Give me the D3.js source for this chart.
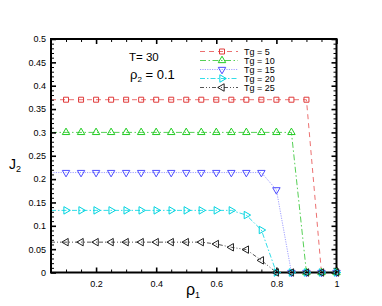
<!DOCTYPE html>
<html><head><meta charset="utf-8">
<script src="https://cdn.jsdelivr.net/npm/d3@7"></script>
<style>body{margin:0;background:#fff}svg{display:block}text{font-family:"Liberation Sans",Arial,sans-serif}</style>
</head><body>
<svg id="c" width="382" height="306"></svg>
<script>
const rho1 = [0.05,0.1,0.15,0.2,0.25,0.3,0.35,0.4,0.45,0.5,0.55,0.6,0.65,0.7,0.75,0.8,0.85,0.9,0.95,1.0];
const tg5  = [0.37,0.37,0.37,0.37,0.37,0.37,0.37,0.37,0.37,0.37,0.37,0.37,0.37,0.37,0.37,0.37,0.37,0.37,0,0];
const tg10 = [0.3,0.3,0.3,0.3,0.3,0.3,0.3,0.3,0.3,0.3,0.3,0.3,0.3,0.3,0.3,0.3,0.3,0,0,0];
const tg15 = [0.214,0.214,0.214,0.214,0.214,0.214,0.214,0.214,0.214,0.214,0.214,0.214,0.214,0.214,0.214,0.177,0,0,0,0];
const tg20 = [0.133,0.133,0.133,0.133,0.133,0.133,0.133,0.133,0.133,0.133,0.133,0.133,0.133,0.123,0.091,0,0,0,0,0];
const tg25 = [0.065,0.065,0.065,0.065,0.065,0.065,0.065,0.065,0.065,0.065,0.065,0.061,0.054,0.049,0.026,0,0,0,0,0];
const seriesNames = ["Tg = 5","Tg = 10","Tg = 15","Tg = 20","Tg = 25"];
const xTicks = [0.2,0.4,0.6,0.8,1];
const xTickLabels = ["0.2","0.4","0.6","0.8","1"];
const yTicks = [0,0.05,0.1,0.15,0.2,0.25,0.3,0.35,0.4,0.45,0.5];
const yTickLabels = ["0","0.05","0.1","0.15","0.2","0.25","0.3","0.35","0.4","0.45","0.5"];

const svg = d3.select("#c");
const L=51, R=336.5, T=39, B=272.5;
const x = d3.scaleLinear([0.05,1],[L,R]);
const y = d3.scaleLinear([0,0.5],[B,T]);

const styles = [
  {c:"#e03a3a", lc:"#ec7070", dash:"5,4", sym:d3.symbolSquare, rot:0, size:25},
  {c:"#22cc22", lc:"#55d055", dash:"6,2.5,1.5,2.5", sym:d3.symbolTriangle, rot:0, size:24},
  {c:"#4d4dff", lc:"#a0a0ff", dash:"1.2,1.2", sym:d3.symbolTriangle, rot:180, size:24},
  {c:"#00d4e0", lc:"#33dde8", dash:"5,2,1.5,2", sym:d3.symbolTriangle, rot:90, size:24},
  {c:"#222222", lc:"#555555", dash:"4,2,1,2,1,2", sym:d3.symbolTriangle, rot:-90, size:24}
];
const allSeries = [tg5,tg10,tg15,tg20,tg25];

const line = d3.line().x((d,i)=>x(rho1[i])).y(d=>y(d));
allSeries.forEach((s,k)=>{
  const st = styles[k];
  svg.append("path").attr("d", line(s)).attr("fill","none")
    .attr("stroke", st.lc).attr("stroke-width",1).attr("stroke-dasharray", st.dash);
});
allSeries.forEach((s,k)=>{
  const st = styles[k];
  const sym = d3.symbol().type(st.sym).size(st.size);
  svg.append("g").selectAll("path").data(s.map((v,i)=>({v,i})).filter(d=>d.i>0 && d.v>0))
    .join("path").attr("d", sym())
    .attr("transform", d=>`translate(${x(rho1[d.i])},${y(d.v)}) rotate(${st.rot})`)
    .attr("fill","none").attr("stroke", st.c).attr("stroke-width",1);
});

const minorX = d3.range(0.1,1.0001,0.05).filter(v=>!xTicks.some(t=>Math.abs(t-v)<1e-6));
const minorY = d3.range(0,0.5001,0.01).filter(v=>!yTicks.some(t=>Math.abs(t-v)<1e-6));
function styleAxis(g){ g.select(".domain").remove(); g.selectAll("line").attr("stroke","#000"); }

svg.append("g").attr("transform",`translate(0,${B})`)
  .call(d3.axisBottom(x).tickValues(xTicks).tickFormat((d,i)=>xTickLabels[i]).tickSize(-5).tickPadding(8))
  .call(styleAxis).call(g=>g.selectAll("line").attr("stroke-width",1.6))
  .call(g=>g.selectAll("text").attr("font-size",9).attr("fill","#000").attr("font-family","Liberation Sans, Arial, sans-serif"));
svg.append("g").attr("transform",`translate(0,${B})`)
  .call(d3.axisBottom(x).tickValues(minorX).tickFormat("").tickSize(-3)).call(styleAxis);
svg.append("g").attr("transform",`translate(0,${T})`)
  .call(d3.axisTop(x).tickValues(xTicks).tickFormat("").tickSize(-5)).call(styleAxis)
  .call(g=>g.selectAll("line").attr("stroke-width",1.6));
svg.append("g").attr("transform",`translate(0,${T})`)
  .call(d3.axisTop(x).tickValues(minorX).tickFormat("").tickSize(-3)).call(styleAxis);

svg.append("g").attr("transform",`translate(${L},0)`)
  .call(d3.axisLeft(y).tickValues(yTicks).tickFormat((d,i)=>yTickLabels[i]).tickSize(-5).tickPadding(5))
  .call(styleAxis).call(g=>g.selectAll("line").attr("stroke-width",1.6))
  .call(g=>g.selectAll("text").attr("font-size",9).attr("fill","#000").attr("font-family","Liberation Sans, Arial, sans-serif"));
svg.append("g").attr("transform",`translate(${L},0)`)
  .call(d3.axisLeft(y).tickValues(minorY).tickFormat("").tickSize(-3)).call(styleAxis);
svg.append("g").attr("transform",`translate(${R},0)`)
  .call(d3.axisRight(y).tickValues(yTicks).tickFormat("").tickSize(-5)).call(styleAxis)
  .call(g=>g.selectAll("line").attr("stroke-width",1.6));
svg.append("g").attr("transform",`translate(${R},0)`)
  .call(d3.axisRight(y).tickValues(minorY).tickFormat("").tickSize(-3)).call(styleAxis);

svg.append("rect").attr("x",L).attr("y",T).attr("width",R-L).attr("height",B-T)
  .attr("fill","none").attr("stroke","#000").attr("stroke-width",2);

// zero-valued markers drawn on top of the frame
allSeries.forEach((s,k)=>{
  const st = styles[k];
  const sym = d3.symbol().type(st.sym).size(st.size);
  svg.append("g").selectAll("path").data(s.map((v,i)=>({v,i})).filter(d=>d.v===0))
    .join("path").attr("d", sym())
    .attr("transform", d=>`translate(${x(rho1[d.i])},${y(d.v)}) rotate(${st.rot})`)
    .attr("fill","none").attr("stroke", st.c).attr("stroke-width",1);
});

const lg = svg.append("g");
seriesNames.forEach((n,k)=>{
  const st = styles[k];
  const yy = 51.5 + k*9;
  lg.append("line").attr("x1",200).attr("x2",238).attr("y1",yy).attr("y2",yy)
    .attr("stroke",st.lc).attr("stroke-width",1).attr("stroke-dasharray",st.dash);
  lg.append("path").attr("d", d3.symbol().type(st.sym).size(st.size)())
    .attr("transform",`translate(222,${yy}) rotate(${st.rot})`)
    .attr("fill","none").attr("stroke",st.c).attr("stroke-width",1);
  lg.append("text").attr("x",244).attr("y",yy+3.2).attr("font-size",9).text(n);
});

svg.append("text").attr("x",129).attr("y",60.5).attr("font-size",11.5).text("T= 30");
const t2 = svg.append("text").attr("x",130).attr("y",78.5).attr("font-family","Liberation Serif, Times New Roman, serif").attr("font-size",13);
t2.append("tspan").text("ρ");
t2.append("tspan").attr("font-size",8).attr("dy",3).text("2");
t2.append("tspan").attr("dy",-3).text(" = 0.1");

const yl = svg.append("text").attr("x",9).attr("y",169).attr("font-size",14);
yl.append("tspan").text("J");
yl.append("tspan").attr("font-size",9).attr("dy",3).text("2");

const xl = svg.append("text").attr("x",186).attr("y",295).attr("font-family","Liberation Serif, Times New Roman, serif").attr("font-size",16);
xl.append("tspan").text("ρ");
xl.append("tspan").attr("font-size",9).attr("dy",3).text("1");
</script>
</body></html>
